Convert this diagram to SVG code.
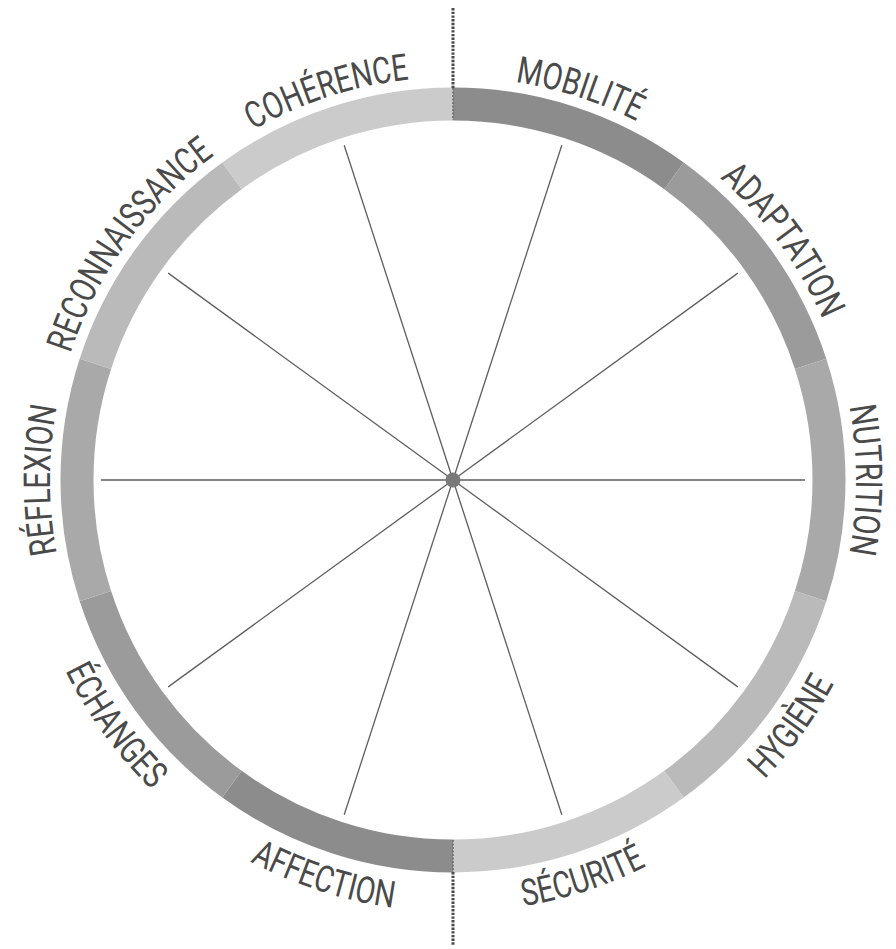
<svg xmlns="http://www.w3.org/2000/svg" xmlns:xlink="http://www.w3.org/1999/xlink" width="896" height="949" viewBox="0 0 896 949">
<style>
.seg{fill:none;stroke-width:33}
.spoke{stroke:#5e5e5e;stroke-width:1.3}
.lbl{font-family:Roboto,"Liberation Sans",sans-serif;font-size:37px;fill:#4a4a4a}
.dot{stroke:#4a4a4a;stroke-width:3;stroke-dasharray:2.4 1.3}
</style>
<defs>
<path id="cw" d="M 453 77 A 403 403 0 1 1 453 883 A 403 403 0 1 1 453 77"/>
<path id="ccw" d="M 453 48 A 432 432 0 1 0 453 912 A 432 432 0 1 0 453 48"/>
</defs>
<rect width="896" height="949" fill="#fff"/>
<g id="ring">
<path class="seg" stroke="#8c8c8c" d="M 453 104 A 376 376 0 0 1 674 175.8"/>
<path class="seg" stroke="#9b9b9b" d="M 674 175.8 A 376 376 0 0 1 810.6 363.8"/>
<path class="seg" stroke="#a9a9a9" d="M 810.6 363.8 A 376 376 0 0 1 810.6 596.2"/>
<path class="seg" stroke="#bababa" d="M 810.6 596.2 A 376 376 0 0 1 674 784.2"/>
<path class="seg" stroke="#cbcbcb" d="M 674 784.2 A 376 376 0 0 1 453 856"/>
<path class="seg" stroke="#8c8c8c" d="M 453 856 A 376 376 0 0 1 232 784.2"/>
<path class="seg" stroke="#9b9b9b" d="M 232 784.2 A 376 376 0 0 1 95.4 596.2"/>
<path class="seg" stroke="#a9a9a9" d="M 95.4 596.2 A 376 376 0 0 1 95.4 363.8"/>
<path class="seg" stroke="#bababa" d="M 95.4 363.8 A 376 376 0 0 1 232 175.8"/>
<path class="seg" stroke="#cbcbcb" d="M 232 175.8 A 376 376 0 0 1 453 104"/>
</g>
<g id="connectors">
<line class="spoke" x1="453" y1="480" x2="561.8" y2="145.2"/>
<line class="spoke" x1="453" y1="480" x2="737.8" y2="273.1"/>
<line class="spoke" x1="453" y1="480" x2="805" y2="480"/>
<line class="spoke" x1="453" y1="480" x2="737.8" y2="686.9"/>
<line class="spoke" x1="453" y1="480" x2="561.8" y2="814.8"/>
<line class="spoke" x1="453" y1="480" x2="344.2" y2="814.8"/>
<line class="spoke" x1="453" y1="480" x2="168.2" y2="686.9"/>
<line class="spoke" x1="453" y1="480" x2="101" y2="480"/>
<line class="spoke" x1="453" y1="480" x2="168.2" y2="273.1"/>
<line class="spoke" x1="453" y1="480" x2="344.2" y2="145.2"/>
</g>
<g id="center"><circle cx="453" cy="480" r="7.5" fill="#7a7a7a"/></g>
<g id="axis">
<line class="dot" x1="453" y1="8" x2="453" y2="88"/>
<line class="dot" x1="453" y1="872" x2="453" y2="946"/>
<line x1="453" y1="88" x2="453" y2="120" stroke="#666" stroke-width="1.5" stroke-dasharray="2 1.5"/>
<line x1="453" y1="840" x2="453" y2="872" stroke="#666" stroke-width="1.5" stroke-dasharray="2 1.5"/>
</g>
<g id="labels" class="lbl" text-anchor="middle">
<g id="mobilite"><text><textPath xlink:href="#cw" href="#cw" startOffset="5%" textLength="128" lengthAdjust="spacingAndGlyphs">MOBILITÉ</textPath></text></g>
<g id="adaptation"><text><textPath xlink:href="#cw" href="#cw" startOffset="15%" textLength="176" lengthAdjust="spacingAndGlyphs">ADAPTATION</textPath></text></g>
<g id="nutrition"><text><textPath xlink:href="#cw" href="#cw" startOffset="25%" textLength="148" lengthAdjust="spacingAndGlyphs">NUTRITION</textPath></text></g>
<g id="reflexion"><text><textPath xlink:href="#cw" href="#cw" startOffset="75%" textLength="148" lengthAdjust="spacingAndGlyphs">RÉFLEXION</textPath></text></g>
<g id="reconnaissance"><text><textPath xlink:href="#cw" href="#cw" startOffset="85%" textLength="249" lengthAdjust="spacingAndGlyphs">RECONNAISSANCE</textPath></text></g>
<g id="coherence"><text><textPath xlink:href="#cw" href="#cw" startOffset="95%" textLength="165" lengthAdjust="spacingAndGlyphs">COHÉRENCE</textPath></text></g>
<g id="hygiene"><text><textPath xlink:href="#ccw" href="#ccw" startOffset="65%" textLength="119" lengthAdjust="spacingAndGlyphs">HYGIÈNE</textPath></text></g>
<g id="securite"><text><textPath xlink:href="#ccw" href="#ccw" startOffset="55%" textLength="130" lengthAdjust="spacingAndGlyphs">SÉCURITÉ</textPath></text></g>
<g id="affection"><text><textPath xlink:href="#ccw" href="#ccw" startOffset="45%" textLength="151" lengthAdjust="spacingAndGlyphs">AFFECTION</textPath></text></g>
<g id="echanges"><text><textPath xlink:href="#ccw" href="#ccw" startOffset="35%" textLength="148" lengthAdjust="spacingAndGlyphs">ÉCHANGES</textPath></text></g>
</g>
</svg>
